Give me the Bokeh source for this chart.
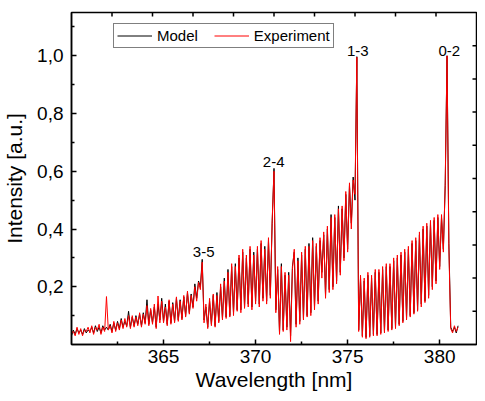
from bokeh.plotting import figure
from bokeh.models import (Range1d, FixedTicker, CustomJSTickFormatter,
                          Legend, LegendItem, ColumnDataSource)
from bokeh.core.properties import value
from bokeh.embed import file_html
from bokeh.resources import INLINE

# ---------------- data ----------------
wavelength = [
    360.0, 360.1, 360.2, 360.3, 360.4, 360.5, 360.6, 360.7, 360.8, 360.9,
    361.0, 361.1, 361.2, 361.3, 361.4, 361.5, 361.6, 361.7, 361.8, 361.9,
    362.0, 362.1, 362.2, 362.3, 362.4, 362.5, 362.6, 362.7, 362.8, 362.9,
    363.0, 363.1, 363.2, 363.3, 363.4, 363.5, 363.6, 363.7, 363.8, 363.9,
    364.0, 364.1, 364.2, 364.3, 364.4, 364.5, 364.6, 364.7, 364.8, 364.9,
    365.0, 365.1, 365.2, 365.3, 365.4, 365.5, 365.6, 365.7, 365.8, 365.9,
    366.0, 366.1, 366.2, 366.3, 366.4, 366.5, 366.6, 366.7, 366.8, 366.9,
    367.0, 367.1, 367.2, 367.3, 367.4, 367.5, 367.6, 367.7, 367.8, 367.9,
    368.0, 368.1, 368.2, 368.3, 368.4, 368.5, 368.6, 368.7, 368.8, 368.9,
    369.0, 369.1, 369.2, 369.3, 369.4, 369.5, 369.6, 369.7, 369.8, 369.9,
    370.0, 370.1, 370.2, 370.3, 370.4, 370.5, 370.6, 370.7, 370.8, 370.9,
    371.0, 371.1, 371.2, 371.3, 371.4, 371.5, 371.6, 371.7, 371.8, 371.9,
    372.0, 372.1, 372.2, 372.3, 372.4, 372.5, 372.6, 372.7, 372.8, 372.9,
    373.0, 373.1, 373.2, 373.3, 373.4, 373.5, 373.6, 373.7, 373.8, 373.9,
    374.0, 374.1, 374.2, 374.3, 374.4, 374.5, 374.6, 374.7, 374.8, 374.9,
    375.0, 375.1, 375.2, 375.3, 375.4, 375.5, 375.6, 375.7, 375.8, 375.9,
    376.0, 376.1, 376.2, 376.3, 376.4, 376.5, 376.6, 376.7, 376.8, 376.9,
    377.0, 377.1, 377.2, 377.3, 377.4, 377.5, 377.6, 377.7, 377.8, 377.9,
    378.0, 378.1, 378.2, 378.3, 378.4, 378.5, 378.6, 378.7, 378.8, 378.9,
    379.0, 379.1, 379.2, 379.3, 379.4, 379.5, 379.6, 379.7, 379.8, 379.9,
    380.0, 380.1, 380.2, 380.3, 380.4, 380.5, 380.6, 380.7, 380.8, 380.9,
    381.0,
]

model = [
    0.03, 0.05, 0.035, 0.055, 0.04, 0.05, 0.035, 0.055, 0.04, 0.05,
    0.045, 0.06, 0.04, 0.065, 0.045, 0.06, 0.04, 0.065, 0.05, 0.06,
    0.05, 0.07, 0.045, 0.075, 0.05, 0.08, 0.055, 0.09, 0.06, 0.08,
    0.065, 0.115, 0.06, 0.095, 0.065, 0.10, 0.07, 0.105, 0.065, 0.11,
    0.075, 0.155, 0.07, 0.12, 0.075, 0.13, 0.06, 0.14, 0.085, 0.16,
    0.08, 0.14, 0.07, 0.15, 0.075, 0.145, 0.08, 0.16, 0.085, 0.155,
    0.09, 0.165, 0.10, 0.18, 0.11, 0.175, 0.13, 0.21, 0.16, 0.22,
    0.20, 0.295, 0.085, 0.13, 0.06, 0.15, 0.07, 0.17, 0.065, 0.18,
    0.08, 0.20, 0.09, 0.23, 0.095, 0.26, 0.10, 0.27, 0.11, 0.28,
    0.12, 0.30, 0.12, 0.32, 0.13, 0.30, 0.14, 0.33, 0.13, 0.32,
    0.15, 0.33, 0.14, 0.35, 0.16, 0.34, 0.15, 0.36, 0.17, 0.42,
    0.61, 0.12, 0.26, 0.04, 0.28, 0.05, 0.24, 0.06, 0.25, 0.03,
    0.27, 0.32, 0.07, 0.30, 0.08, 0.31, 0.09, 0.33, 0.10, 0.35,
    0.11, 0.37, 0.13, 0.34, 0.15, 0.36, 0.25, 0.38, 0.17, 0.40,
    0.19, 0.45, 0.20, 0.44, 0.22, 0.48, 0.25, 0.47, 0.30, 0.52,
    0.33, 0.55, 0.42, 0.58, 0.50, 0.997, 0.05, 0.23, 0.03, 0.22,
    0.025, 0.24, 0.03, 0.23, 0.035, 0.25, 0.035, 0.25, 0.04, 0.26,
    0.045, 0.27, 0.05, 0.27, 0.055, 0.29, 0.06, 0.30, 0.07, 0.31,
    0.08, 0.32, 0.09, 0.33, 0.10, 0.35, 0.11, 0.36, 0.12, 0.38,
    0.14, 0.40, 0.15, 0.41, 0.17, 0.42, 0.20, 0.43, 0.22, 0.44,
    0.27, 0.44, 0.33, 0.55, 1.00, 0.35, 0.06, 0.045, 0.06, 0.04,
    0.065,
]

experiment = [
    0.04, 0.045, 0.03, 0.06, 0.035, 0.055, 0.03, 0.05, 0.045, 0.06,
    0.04, 0.065, 0.035, 0.06, 0.05, 0.07, 0.035, 0.06, 0.045, 0.166,
    0.05, 0.065, 0.04, 0.08, 0.045, 0.075, 0.05, 0.085, 0.055, 0.09,
    0.06, 0.10, 0.055, 0.10, 0.06, 0.095, 0.065, 0.11, 0.06, 0.105,
    0.07, 0.135, 0.065, 0.125, 0.07, 0.14, 0.055, 0.168, 0.075, 0.15,
    0.075, 0.13, 0.065, 0.155, 0.07, 0.14, 0.075, 0.165, 0.08, 0.15,
    0.085, 0.17, 0.095, 0.185, 0.105, 0.17, 0.125, 0.20, 0.15, 0.215,
    0.19, 0.285, 0.075, 0.14, 0.055, 0.16, 0.065, 0.175, 0.06, 0.17,
    0.075, 0.21, 0.085, 0.22, 0.09, 0.25, 0.095, 0.28, 0.10, 0.27,
    0.115, 0.31, 0.11, 0.33, 0.125, 0.31, 0.13, 0.34, 0.12, 0.31,
    0.14, 0.34, 0.13, 0.36, 0.15, 0.33, 0.14, 0.37, 0.16, 0.43,
    0.60, 0.11, 0.27, 0.035, 0.27, 0.045, 0.25, 0.05, 0.24, 0.01,
    0.26, 0.33, 0.06, 0.29, 0.07, 0.32, 0.085, 0.34, 0.095, 0.34,
    0.10, 0.36, 0.12, 0.35, 0.14, 0.37, 0.23, 0.39, 0.16, 0.41,
    0.18, 0.44, 0.19, 0.45, 0.21, 0.47, 0.24, 0.48, 0.29, 0.53,
    0.32, 0.56, 0.40, 0.57, 0.52, 0.995, 0.045, 0.24, 0.025, 0.23,
    0.02, 0.25, 0.025, 0.24, 0.03, 0.26, 0.03, 0.26, 0.035, 0.27,
    0.04, 0.28, 0.045, 0.28, 0.05, 0.30, 0.055, 0.31, 0.065, 0.32,
    0.075, 0.33, 0.085, 0.34, 0.095, 0.36, 0.105, 0.37, 0.115, 0.39,
    0.13, 0.41, 0.145, 0.42, 0.16, 0.43, 0.19, 0.44, 0.21, 0.45,
    0.26, 0.45, 0.32, 0.56, 1.00, 0.33, 0.055, 0.04, 0.065, 0.045,
    0.06,
]

band_labels = ["3-5", "2-4", "1-3", "0-2"]
band_label_x = [367.18, 370.98, 375.55, 380.52]
band_label_y = [0.32, 0.631, 1.017, 1.017]

x_major_ticks = [365, 370, 375, 380]
x_minor_ticks = [362.5, 367.5, 372.5, 377.5]
y_major_ticks = [0.2, 0.4, 0.6, 0.8, 1.0]
y_minor_ticks = [0.1, 0.3, 0.5, 0.7, 0.9, 1.1]
top_ticks = [362.2, 364.4, 366.6, 368.8, 371.0, 373.2, 375.4, 377.6, 379.8]
right_ticks = [0.115, 0.23, 0.345, 0.46, 0.575, 0.69, 0.805, 0.92, 1.035]

assert len(wavelength) == len(model) == len(experiment)

FONT = "Liberation Sans"
X0, X1 = 360, 382
Y0, Y1 = 0, 1.15
W, H = 477, 393
BL, BR, BT, BB = 71, 1, 12, 47
FRAME_W = W - BL - BR
FRAME_H = H - BT - BB

p = figure(width=W, height=H, output_backend="svg", toolbar_location=None,
           x_range=Range1d(X0, X1), y_range=Range1d(Y0, Y1),
           min_border_left=BL, min_border_right=BR, min_border_top=BT,
           min_border_bottom=BB)
p.background_fill_color = "white"
p.border_fill_color = "white"
p.outline_line_color = "black"
p.outline_line_width = 1.5
p.xgrid.visible = False
p.ygrid.visible = False

src = ColumnDataSource(dict(wl=wavelength, model=model, exp=experiment))
r_model = p.line("wl", "model", source=src, line_color="black", line_width=1)
r_exp = p.line("wl", "exp", source=src, line_color="#ff0000", line_width=1)

p.text(x=band_label_x, y=band_label_y, text=band_labels,
       text_font=value(FONT), text_font_size="15px", text_color="black",
       text_align="center", text_baseline="alphabetic")

# mirror ticks on the top and right frame edges (pointing inward)
tick_dx = 4 * (X1 - X0) / FRAME_W
tick_dy = 4 * (Y1 - Y0) / FRAME_H
p.segment(x0=top_ticks, x1=top_ticks, y0=[Y1] * len(top_ticks),
          y1=[Y1 - tick_dy] * len(top_ticks), line_color="black", line_width=1.5)
p.segment(x0=[X1] * len(right_ticks), x1=[X1 - tick_dx] * len(right_ticks),
          y0=right_ticks, y1=right_ticks, line_color="black", line_width=1.5)

# bottom axis
xa = p.xaxis[0]
xa.ticker = FixedTicker(ticks=x_major_ticks, minor_ticks=x_minor_ticks)
xa.axis_label = "Wavelength [nm]"
xa.axis_label_text_font = FONT
xa.axis_label_text_font_size = "21px"
xa.axis_label_text_font_style = "normal"
xa.axis_label_text_color = "black"
xa.axis_label_standoff = 2
xa.major_label_text_font = FONT
xa.major_label_text_font_size = "19px"
xa.major_label_text_color = "black"
xa.major_label_standoff = 5
xa.major_tick_in = 5
xa.major_tick_out = 0
xa.minor_tick_in = 3
xa.minor_tick_out = 0
xa.axis_line_color = "black"
xa.major_tick_line_color = "black"
xa.minor_tick_line_color = "black"
xa.axis_line_width = 1.5
xa.major_tick_line_width = 1.5
xa.minor_tick_line_width = 1.5

# left axis
ya = p.yaxis[0]
ya.ticker = FixedTicker(ticks=y_major_ticks, minor_ticks=y_minor_ticks)
ya.formatter = CustomJSTickFormatter(code="return tick.toFixed(1).replace('.', ',');")
ya.axis_label = "Intensity [a.u.]"
ya.axis_label_text_font = FONT
ya.axis_label_text_font_size = "21px"
ya.axis_label_text_font_style = "normal"
ya.axis_label_text_color = "black"
ya.axis_label_standoff = 8
ya.major_label_text_font = FONT
ya.major_label_text_font_size = "19px"
ya.major_label_text_color = "black"
ya.major_label_standoff = 8
ya.major_tick_in = 5
ya.major_tick_out = 0
ya.minor_tick_in = 3
ya.minor_tick_out = 0
ya.axis_line_color = "black"
ya.major_tick_line_color = "black"
ya.minor_tick_line_color = "black"
ya.axis_line_width = 1.5
ya.major_tick_line_width = 1.5
ya.minor_tick_line_width = 1.5

legend = Legend(items=[LegendItem(label="Model", renderers=[r_model]),
                       LegendItem(label="Experiment", renderers=[r_exp])],
                orientation="horizontal", location=(42, 296),
                label_text_font=FONT, label_text_font_size="15px",
                label_text_color="black",
                glyph_width=35, glyph_height=17, label_standoff=5, spacing=16,
                padding=3, margin=0,
                border_line_color="black", border_line_width=1,
                background_fill_color="white", background_fill_alpha=1)
p.add_layout(legend, "center")

open("out.html", "w").write(file_html(p, INLINE))
